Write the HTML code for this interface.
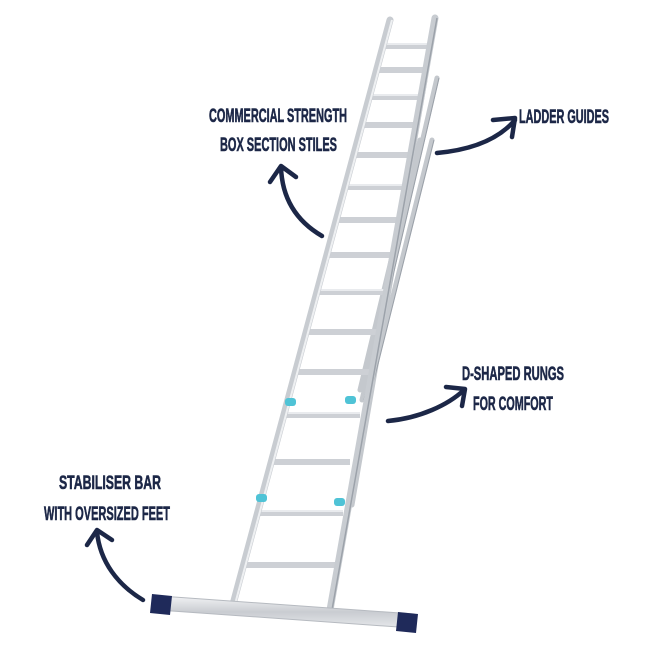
<!DOCTYPE html>
<html><head><meta charset="utf-8"><style>
html,body{margin:0;padding:0;background:#fff;}
svg{display:block}
text{font-family:"Liberation Sans",sans-serif;font-weight:bold;fill:#1c2747;font-size:19px;stroke:#1c2747;stroke-width:0.6}
</style></head><body>
<svg width="650" height="650" viewBox="0 0 650 650">
<defs>
<linearGradient id="al" x1="0" y1="0" x2="0" y2="1"><stop offset="0" stop-color="#f2f3f5"/><stop offset="0.5" stop-color="#c9ccd1"/><stop offset="1" stop-color="#e6e8eb"/></linearGradient>
</defs>
<rect width="650" height="650" fill="#fff"/>
<g stroke="#c4c8cd" stroke-width="5" stroke-linecap="round">
<line x1="437" y1="78" x2="362" y2="400"/>
<line x1="432" y1="140" x2="372" y2="380"/>
<line x1="425" y1="80" x2="352" y2="505"/>
<line x1="420" y1="140" x2="360" y2="390"/>
</g>
<g stroke="#9aa0a8" stroke-width="1">
<line x1="439" y1="78" x2="364" y2="400"/>
<line x1="434" y1="140" x2="374" y2="380"/>
</g>
<g stroke="#cdd0d5" stroke-width="6">
<line x1="384" y1="46" x2="431" y2="46"/>
<line x1="377" y1="70" x2="427" y2="70"/>
<line x1="370" y1="97" x2="422" y2="97"/>
<line x1="362" y1="125" x2="417" y2="125"/>
<line x1="354" y1="155" x2="412" y2="155"/>
<line x1="345" y1="187" x2="406" y2="187"/>
<line x1="336" y1="220" x2="400" y2="220"/>
<line x1="326" y1="255" x2="394" y2="255"/>
<line x1="316" y1="292" x2="388" y2="292"/>
<line x1="305" y1="332" x2="381" y2="332"/>
<line x1="294" y1="372" x2="374" y2="372"/>
<line x1="283" y1="415" x2="360" y2="415"/>
<line x1="270" y1="462" x2="350" y2="462"/>
<line x1="256" y1="513" x2="343" y2="513"/>
<line x1="242" y1="565" x2="335" y2="565"/>
</g>
<g stroke="#e9ebee" stroke-width="2">
<line x1="384" y1="44" x2="431" y2="44"/><line x1="370" y1="95" x2="422" y2="95"/><line x1="345" y1="185" x2="406" y2="185"/><line x1="316" y1="290" x2="388" y2="290"/><line x1="283" y1="413" x2="360" y2="413"/><line x1="256" y1="511" x2="343" y2="511"/>
</g>
<line x1="390" y1="20" x2="232" y2="608" stroke="#c8ccd1" stroke-width="7" stroke-linecap="round"/>
<line x1="392" y1="20" x2="234" y2="608" stroke="#eef0f2" stroke-width="2"/>
<line x1="435" y1="18" x2="330" y2="610" stroke="#c8ccd1" stroke-width="7" stroke-linecap="round"/>
<line x1="437" y1="18" x2="332" y2="610" stroke="#9ca2aa" stroke-width="1.5"/>
<g fill="#4fc3d6">
<rect x="285" y="398" width="11" height="8" rx="3"/><rect x="345" y="396" width="11" height="8" rx="3"/>
<rect x="256" y="494" width="11" height="8" rx="3"/><rect x="334" y="498" width="11" height="8" rx="3"/>
</g>
<polygon points="160,596 414,614 412,628 158,610" fill="url(#al)" stroke="#b6bac0" stroke-width="1"/>
<polygon points="152,594 172,596 170,615 150,613" fill="#1f2a5a"/>
<polygon points="398,612 418,614 416,633 396,631" fill="#1f2a5a"/>
<g fill="none" stroke="#1c2747" stroke-width="4.5" stroke-linecap="round" stroke-linejoin="round">
<path d="M322,236 C298,222 282,200 281,167"/>
<path d="M270,182 L281,166 L296,177"/>
<path d="M437,153 C470,150 498,140 515,120"/>
<path d="M493,120 L515,118 L512,137"/>
<path d="M388,421 C420,418 448,405 464,390"/>
<path d="M446,387 L465,389 L462,406"/>
<path d="M143,600 C118,585 100,562 97,532"/>
<path d="M87,545 L97,530 L112,540"/>
</g>
<text x="209" y="122" textLength="138" lengthAdjust="spacingAndGlyphs">COMMERCIAL STRENGTH</text>
<text x="220" y="151" textLength="117" lengthAdjust="spacingAndGlyphs">BOX SECTION STILES</text>
<text x="519" y="123" textLength="90" lengthAdjust="spacingAndGlyphs">LADDER GUIDES</text>
<text x="462" y="380" textLength="102" lengthAdjust="spacingAndGlyphs">D-SHAPED RUNGS</text>
<text x="473" y="410" textLength="80" lengthAdjust="spacingAndGlyphs">FOR COMFORT</text>
<text x="59" y="489" textLength="102" lengthAdjust="spacingAndGlyphs">STABILISER BAR</text>
<text x="44" y="520" textLength="126" lengthAdjust="spacingAndGlyphs">WITH OVERSIZED FEET</text>
</svg>
</body></html>
